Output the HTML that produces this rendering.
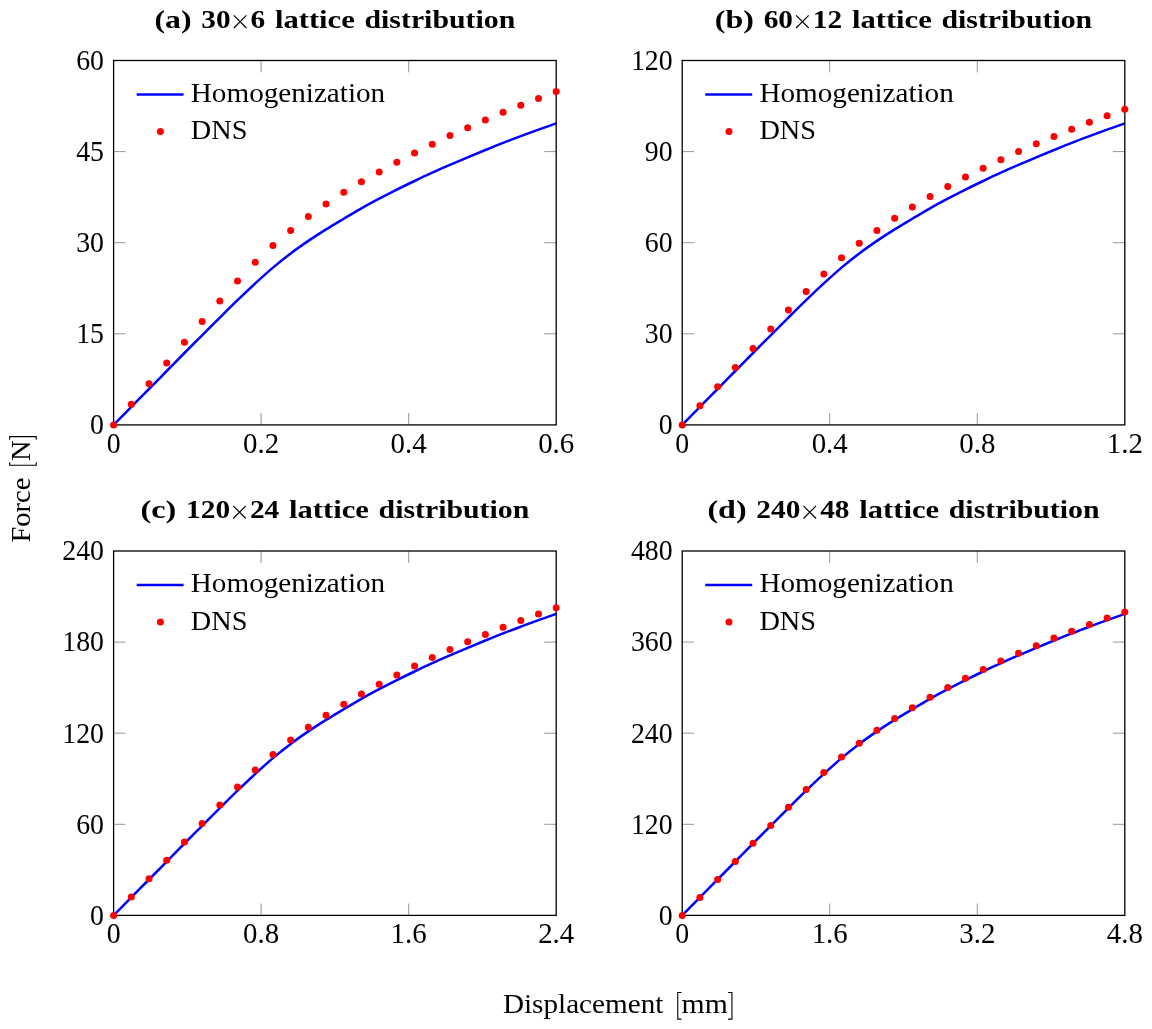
<!DOCTYPE html>
<html><head><meta charset="utf-8"><title>Force-displacement</title>
<style>
html,body{margin:0;padding:0;background:#fff;}
svg{display:block;will-change:transform;}
text{font-family:"Liberation Serif",serif;fill:#000;}
.t{font-size:28.2px;}
.b{font-size:25.5px;font-weight:bold;}
.x{font-weight:normal;}
.n{font-size:30px;}
</style></head><body>
<svg width="1152" height="1029" viewBox="0 0 1152 1029">
<rect width="1152" height="1029" fill="#fff"/>
<g id="panel-a">
<path d="M261.13 424.9v-11.9 M261.13 60.5v11.9 M408.67 424.9v-11.9 M408.67 60.5v11.9 M113.6 333.8h11.9 M556.2 333.8h-11.9 M113.6 242.7h11.9 M556.2 242.7h-11.9 M113.6 151.6h11.9 M556.2 151.6h-11.9" stroke="#6a6a6a" stroke-width="0.7" fill="none"/>
<path d="M113.6 424.9 C116.55 421.9 125.4 412.88 131.3 406.9 C137.21 400.92 143.11 394.98 149.01 389 C154.91 383.02 160.81 377 166.71 371 C172.61 365 178.51 358.95 184.42 353 C190.32 347.05 196.22 341.2 202.12 335.3 C208.02 329.4 213.92 323.45 219.82 317.6 C225.73 311.75 231.63 305.89 237.53 300.2 C243.43 294.51 249.33 288.88 255.23 283.45 C261.13 278.02 267.03 272.65 272.94 267.65 C278.84 262.65 284.74 257.92 290.64 253.45 C296.54 248.98 302.44 244.87 308.34 240.85 C314.25 236.83 320.15 233.04 326.05 229.35 C331.95 225.66 337.85 222.21 343.75 218.7 C349.65 215.19 355.55 211.63 361.46 208.3 C367.36 204.97 373.26 201.82 379.16 198.7 C385.06 195.58 390.96 192.55 396.86 189.6 C402.77 186.65 408.67 183.82 414.57 181 C420.47 178.18 426.37 175.38 432.27 172.7 C438.17 170.02 444.07 167.47 449.98 164.9 C455.88 162.33 461.78 159.78 467.68 157.3 C473.58 154.82 479.48 152.4 485.38 150 C491.29 147.6 497.19 145.2 503.09 142.9 C508.99 140.6 514.89 138.4 520.79 136.2 C526.69 134 532.59 131.83 538.5 129.7 C544.4 127.57 553.25 124.45 556.2 123.4" fill="none" stroke="#0000ff" stroke-width="2.5" stroke-linejoin="round"/>
<rect x="113.6" y="60.5" width="442.6" height="364.4" fill="none" stroke="#000" stroke-width="1.3"/>
<g fill="#ff0000"><circle cx="113.6" cy="424.9" r="3.5"/><circle cx="131.3" cy="404.2" r="3.5"/><circle cx="149.01" cy="383.7" r="3.5"/><circle cx="166.71" cy="362.9" r="3.5"/><circle cx="184.42" cy="342.2" r="3.5"/><circle cx="202.12" cy="321.6" r="3.5"/><circle cx="219.82" cy="301.1" r="3.5"/><circle cx="237.53" cy="281.1" r="3.5"/><circle cx="255.23" cy="262.25" r="3.5"/><circle cx="272.94" cy="245.6" r="3.5"/><circle cx="290.64" cy="230.4" r="3.5"/><circle cx="308.34" cy="216.4" r="3.5"/><circle cx="326.05" cy="204" r="3.5"/><circle cx="343.75" cy="192.3" r="3.5"/><circle cx="361.46" cy="181.8" r="3.5"/><circle cx="379.16" cy="172" r="3.5"/><circle cx="396.86" cy="162.3" r="3.5"/><circle cx="414.57" cy="153" r="3.5"/><circle cx="432.27" cy="144.15" r="3.5"/><circle cx="449.98" cy="135.4" r="3.5"/><circle cx="467.68" cy="127.7" r="3.5"/><circle cx="485.38" cy="119.9" r="3.5"/><circle cx="503.09" cy="112.3" r="3.5"/><circle cx="520.79" cy="105.2" r="3.5"/><circle cx="538.5" cy="98.4" r="3.5"/><circle cx="556.2" cy="91.5" r="3.5"/></g>
<path d="M136.7 94.5h46.9" stroke="#0000ff" stroke-width="2.5" fill="none"/>
<circle cx="160.4" cy="131.4" r="3.5" fill="#ff0000"/>
<text class="t" x="190.8" y="101.6" textLength="194.4" lengthAdjust="spacingAndGlyphs">Homogenization</text>
<text class="t" x="190.8" y="139.1" textLength="56.6" lengthAdjust="spacingAndGlyphs">DNS</text>
<text class="b" x="154.56" y="27.9" textLength="37.05" lengthAdjust="spacingAndGlyphs">(a)</text>
<text class="b" x="201.38" y="27.9" textLength="29.32" lengthAdjust="spacingAndGlyphs">30</text>
<path d="M233.83 15.4l12.6 12.6 M233.83 28l12.6 -12.6" stroke="#000" stroke-width="1.15" fill="none"/>
<text class="b" x="250.55" y="27.9" textLength="14.66" lengthAdjust="spacingAndGlyphs">6</text>
<text class="b" x="274.97" y="27.9" textLength="79.79" lengthAdjust="spacingAndGlyphs">lattice</text>
<text class="b" x="364.53" y="27.9" textLength="150.71" lengthAdjust="spacingAndGlyphs">distribution</text>
<text class="n" x="106.65" y="452.8" textLength="13.9" lengthAdjust="spacingAndGlyphs">0</text>
<text class="n" x="243.08" y="452.8" textLength="36.1" lengthAdjust="spacingAndGlyphs">0.2</text>
<text class="n" x="390.62" y="452.8" textLength="36.1" lengthAdjust="spacingAndGlyphs">0.4</text>
<text class="n" x="538.15" y="452.8" textLength="36.1" lengthAdjust="spacingAndGlyphs">0.6</text>
<text class="n" x="90.1" y="434.2" textLength="13.9" lengthAdjust="spacingAndGlyphs">0</text>
<text class="n" x="76.2" y="343.1" textLength="27.8" lengthAdjust="spacingAndGlyphs">15</text>
<text class="n" x="76.2" y="252" textLength="27.8" lengthAdjust="spacingAndGlyphs">30</text>
<text class="n" x="76.2" y="160.9" textLength="27.8" lengthAdjust="spacingAndGlyphs">45</text>
<text class="n" x="76.2" y="69.8" textLength="27.8" lengthAdjust="spacingAndGlyphs">60</text>
</g>
<g id="panel-b">
<path d="M829.73 424.9v-11.9 M829.73 60.5v11.9 M977.27 424.9v-11.9 M977.27 60.5v11.9 M682.2 333.8h11.9 M1124.8 333.8h-11.9 M682.2 242.7h11.9 M1124.8 242.7h-11.9 M682.2 151.6h11.9 M1124.8 151.6h-11.9" stroke="#6a6a6a" stroke-width="0.7" fill="none"/>
<path d="M682.2 424.9 C685.15 421.9 694 412.88 699.9 406.9 C705.81 400.92 711.71 394.98 717.61 389 C723.51 383.02 729.41 377 735.31 371 C741.21 365 747.11 358.95 753.02 353 C758.92 347.05 764.82 341.2 770.72 335.3 C776.62 329.4 782.52 323.45 788.42 317.6 C794.33 311.75 800.23 305.89 806.13 300.2 C812.03 294.51 817.93 288.88 823.83 283.45 C829.73 278.02 835.63 272.65 841.54 267.65 C847.44 262.65 853.34 257.92 859.24 253.45 C865.14 248.98 871.04 244.87 876.94 240.85 C882.85 236.83 888.75 233.04 894.65 229.35 C900.55 225.66 906.45 222.21 912.35 218.7 C918.25 215.19 924.15 211.63 930.06 208.3 C935.96 204.97 941.86 201.82 947.76 198.7 C953.66 195.58 959.56 192.55 965.46 189.6 C971.37 186.65 977.27 183.82 983.17 181 C989.07 178.18 994.97 175.38 1000.87 172.7 C1006.77 170.02 1012.67 167.47 1018.58 164.9 C1024.48 162.33 1030.38 159.78 1036.28 157.3 C1042.18 154.82 1048.08 152.4 1053.98 150 C1059.89 147.6 1065.79 145.2 1071.69 142.9 C1077.59 140.6 1083.49 138.4 1089.39 136.2 C1095.29 134 1101.19 131.83 1107.1 129.7 C1113 127.57 1121.85 124.45 1124.8 123.4" fill="none" stroke="#0000ff" stroke-width="2.5" stroke-linejoin="round"/>
<rect x="682.2" y="60.5" width="442.6" height="364.4" fill="none" stroke="#000" stroke-width="1.3"/>
<g fill="#ff0000"><circle cx="682.2" cy="424.9" r="3.5"/><circle cx="699.9" cy="405.7" r="3.5"/><circle cx="717.61" cy="386.7" r="3.5"/><circle cx="735.31" cy="367.4" r="3.5"/><circle cx="753.02" cy="348.4" r="3.5"/><circle cx="770.72" cy="329.1" r="3.5"/><circle cx="788.42" cy="309.9" r="3.5"/><circle cx="806.13" cy="291.4" r="3.5"/><circle cx="823.83" cy="273.9" r="3.5"/><circle cx="841.54" cy="257.7" r="3.5"/><circle cx="859.24" cy="243.2" r="3.5"/><circle cx="876.94" cy="230.6" r="3.5"/><circle cx="894.65" cy="218.3" r="3.5"/><circle cx="912.35" cy="207.1" r="3.5"/><circle cx="930.06" cy="196.4" r="3.5"/><circle cx="947.76" cy="186.6" r="3.5"/><circle cx="965.46" cy="177.1" r="3.5"/><circle cx="983.17" cy="168.2" r="3.5"/><circle cx="1000.87" cy="159.7" r="3.5"/><circle cx="1018.58" cy="151.6" r="3.5"/><circle cx="1036.28" cy="143.8" r="3.5"/><circle cx="1053.98" cy="136.4" r="3.5"/><circle cx="1071.69" cy="129.3" r="3.5"/><circle cx="1089.39" cy="122.3" r="3.5"/><circle cx="1107.1" cy="115.7" r="3.5"/><circle cx="1124.8" cy="109.2" r="3.5"/></g>
<path d="M705.3 94.5h46.9" stroke="#0000ff" stroke-width="2.5" fill="none"/>
<circle cx="729" cy="131.4" r="3.5" fill="#ff0000"/>
<text class="t" x="759.4" y="101.6" textLength="194.4" lengthAdjust="spacingAndGlyphs">Homogenization</text>
<text class="t" x="759.4" y="139.1" textLength="56.6" lengthAdjust="spacingAndGlyphs">DNS</text>
<text class="b" x="714.81" y="27.9" textLength="39.09" lengthAdjust="spacingAndGlyphs">(b)</text>
<text class="b" x="763.67" y="27.9" textLength="29.32" lengthAdjust="spacingAndGlyphs">60</text>
<path d="M796.12 15.4l12.6 12.6 M796.12 28l12.6 -12.6" stroke="#000" stroke-width="1.15" fill="none"/>
<text class="b" x="812.83" y="27.9" textLength="29.32" lengthAdjust="spacingAndGlyphs">12</text>
<text class="b" x="851.93" y="27.9" textLength="79.79" lengthAdjust="spacingAndGlyphs">lattice</text>
<text class="b" x="941.48" y="27.9" textLength="150.71" lengthAdjust="spacingAndGlyphs">distribution</text>
<text class="n" x="675.25" y="452.8" textLength="13.9" lengthAdjust="spacingAndGlyphs">0</text>
<text class="n" x="811.68" y="452.8" textLength="36.1" lengthAdjust="spacingAndGlyphs">0.4</text>
<text class="n" x="959.22" y="452.8" textLength="36.1" lengthAdjust="spacingAndGlyphs">0.8</text>
<text class="n" x="1106.75" y="452.8" textLength="36.1" lengthAdjust="spacingAndGlyphs">1.2</text>
<text class="n" x="658.7" y="434.2" textLength="13.9" lengthAdjust="spacingAndGlyphs">0</text>
<text class="n" x="644.8" y="343.1" textLength="27.8" lengthAdjust="spacingAndGlyphs">30</text>
<text class="n" x="644.8" y="252" textLength="27.8" lengthAdjust="spacingAndGlyphs">60</text>
<text class="n" x="644.8" y="160.9" textLength="27.8" lengthAdjust="spacingAndGlyphs">90</text>
<text class="n" x="630.9" y="69.8" textLength="41.7" lengthAdjust="spacingAndGlyphs">120</text>
</g>
<g id="panel-c">
<path d="M261.13 915.4v-11.9 M261.13 551v11.9 M408.67 915.4v-11.9 M408.67 551v11.9 M113.6 824.3h11.9 M556.2 824.3h-11.9 M113.6 733.2h11.9 M556.2 733.2h-11.9 M113.6 642.1h11.9 M556.2 642.1h-11.9" stroke="#6a6a6a" stroke-width="0.7" fill="none"/>
<path d="M113.6 915.4 C116.55 912.4 125.4 903.38 131.3 897.4 C137.21 891.42 143.11 885.48 149.01 879.5 C154.91 873.52 160.81 867.5 166.71 861.5 C172.61 855.5 178.51 849.45 184.42 843.5 C190.32 837.55 196.22 831.7 202.12 825.8 C208.02 819.9 213.92 813.95 219.82 808.1 C225.73 802.25 231.63 796.39 237.53 790.7 C243.43 785.01 249.33 779.38 255.23 773.95 C261.13 768.53 267.03 763.15 272.94 758.15 C278.84 753.15 284.74 748.42 290.64 743.95 C296.54 739.48 302.44 735.37 308.34 731.35 C314.25 727.33 320.15 723.54 326.05 719.85 C331.95 716.16 337.85 712.71 343.75 709.2 C349.65 705.69 355.55 702.13 361.46 698.8 C367.36 695.47 373.26 692.32 379.16 689.2 C385.06 686.08 390.96 683.05 396.86 680.1 C402.77 677.15 408.67 674.32 414.57 671.5 C420.47 668.68 426.37 665.88 432.27 663.2 C438.17 660.52 444.07 657.97 449.98 655.4 C455.88 652.83 461.78 650.28 467.68 647.8 C473.58 645.32 479.48 642.9 485.38 640.5 C491.29 638.1 497.19 635.7 503.09 633.4 C508.99 631.1 514.89 628.9 520.79 626.7 C526.69 624.5 532.59 622.33 538.5 620.2 C544.4 618.07 553.25 614.95 556.2 613.9" fill="none" stroke="#0000ff" stroke-width="2.5" stroke-linejoin="round"/>
<rect x="113.6" y="551" width="442.6" height="364.4" fill="none" stroke="#000" stroke-width="1.3"/>
<g fill="#ff0000"><circle cx="113.6" cy="915.4" r="3.5"/><circle cx="131.3" cy="897" r="3.5"/><circle cx="149.01" cy="878.7" r="3.5"/><circle cx="166.71" cy="860.2" r="3.5"/><circle cx="184.42" cy="841.9" r="3.5"/><circle cx="202.12" cy="823.5" r="3.5"/><circle cx="219.82" cy="805" r="3.5"/><circle cx="237.53" cy="786.9" r="3.5"/><circle cx="255.23" cy="770" r="3.5"/><circle cx="272.94" cy="754.4" r="3.5"/><circle cx="290.64" cy="740.05" r="3.5"/><circle cx="308.34" cy="727.2" r="3.5"/><circle cx="326.05" cy="715.3" r="3.5"/><circle cx="343.75" cy="704.3" r="3.5"/><circle cx="361.46" cy="694" r="3.5"/><circle cx="379.16" cy="684.2" r="3.5"/><circle cx="396.86" cy="674.9" r="3.5"/><circle cx="414.57" cy="666" r="3.5"/><circle cx="432.27" cy="657.5" r="3.5"/><circle cx="449.98" cy="649.4" r="3.5"/><circle cx="467.68" cy="641.8" r="3.5"/><circle cx="485.38" cy="634.4" r="3.5"/><circle cx="503.09" cy="627.3" r="3.5"/><circle cx="520.79" cy="620.5" r="3.5"/><circle cx="538.5" cy="614.1" r="3.5"/><circle cx="556.2" cy="607.7" r="3.5"/></g>
<path d="M136.7 585h46.9" stroke="#0000ff" stroke-width="2.5" fill="none"/>
<circle cx="160.4" cy="621.9" r="3.5" fill="#ff0000"/>
<text class="t" x="190.8" y="592.1" textLength="194.4" lengthAdjust="spacingAndGlyphs">Homogenization</text>
<text class="t" x="190.8" y="629.6" textLength="56.6" lengthAdjust="spacingAndGlyphs">DNS</text>
<text class="b" x="140.51" y="518.4" textLength="35.83" lengthAdjust="spacingAndGlyphs">(c)</text>
<text class="b" x="186.11" y="518.4" textLength="43.99" lengthAdjust="spacingAndGlyphs">120</text>
<path d="M233.21 505.9l12.6 12.6 M233.21 518.5l12.6 -12.6" stroke="#000" stroke-width="1.15" fill="none"/>
<text class="b" x="249.93" y="518.4" textLength="29.32" lengthAdjust="spacingAndGlyphs">24</text>
<text class="b" x="289.03" y="518.4" textLength="79.79" lengthAdjust="spacingAndGlyphs">lattice</text>
<text class="b" x="378.58" y="518.4" textLength="150.71" lengthAdjust="spacingAndGlyphs">distribution</text>
<text class="n" x="106.65" y="943.3" textLength="13.9" lengthAdjust="spacingAndGlyphs">0</text>
<text class="n" x="243.08" y="943.3" textLength="36.1" lengthAdjust="spacingAndGlyphs">0.8</text>
<text class="n" x="390.62" y="943.3" textLength="36.1" lengthAdjust="spacingAndGlyphs">1.6</text>
<text class="n" x="538.15" y="943.3" textLength="36.1" lengthAdjust="spacingAndGlyphs">2.4</text>
<text class="n" x="90.1" y="924.7" textLength="13.9" lengthAdjust="spacingAndGlyphs">0</text>
<text class="n" x="76.2" y="833.6" textLength="27.8" lengthAdjust="spacingAndGlyphs">60</text>
<text class="n" x="62.3" y="742.5" textLength="41.7" lengthAdjust="spacingAndGlyphs">120</text>
<text class="n" x="62.3" y="651.4" textLength="41.7" lengthAdjust="spacingAndGlyphs">180</text>
<text class="n" x="62.3" y="560.3" textLength="41.7" lengthAdjust="spacingAndGlyphs">240</text>
</g>
<g id="panel-d">
<path d="M829.73 915.4v-11.9 M829.73 551v11.9 M977.27 915.4v-11.9 M977.27 551v11.9 M682.2 824.3h11.9 M1124.8 824.3h-11.9 M682.2 733.2h11.9 M1124.8 733.2h-11.9 M682.2 642.1h11.9 M1124.8 642.1h-11.9" stroke="#6a6a6a" stroke-width="0.7" fill="none"/>
<path d="M682.2 915.4 C685.15 912.4 694 903.38 699.9 897.4 C705.81 891.42 711.71 885.48 717.61 879.5 C723.51 873.52 729.41 867.5 735.31 861.5 C741.21 855.5 747.11 849.45 753.02 843.5 C758.92 837.55 764.82 831.7 770.72 825.8 C776.62 819.9 782.52 813.95 788.42 808.1 C794.33 802.25 800.23 796.39 806.13 790.7 C812.03 785.01 817.93 779.38 823.83 773.95 C829.73 768.53 835.63 763.15 841.54 758.15 C847.44 753.15 853.34 748.42 859.24 743.95 C865.14 739.48 871.04 735.37 876.94 731.35 C882.85 727.33 888.75 723.54 894.65 719.85 C900.55 716.16 906.45 712.71 912.35 709.2 C918.25 705.69 924.15 702.13 930.06 698.8 C935.96 695.47 941.86 692.32 947.76 689.2 C953.66 686.08 959.56 683.05 965.46 680.1 C971.37 677.15 977.27 674.32 983.17 671.5 C989.07 668.68 994.97 665.88 1000.87 663.2 C1006.77 660.52 1012.67 657.97 1018.58 655.4 C1024.48 652.83 1030.38 650.28 1036.28 647.8 C1042.18 645.32 1048.08 642.9 1053.98 640.5 C1059.89 638.1 1065.79 635.7 1071.69 633.4 C1077.59 631.1 1083.49 628.9 1089.39 626.7 C1095.29 624.5 1101.19 622.33 1107.1 620.2 C1113 618.07 1121.85 614.95 1124.8 613.9" fill="none" stroke="#0000ff" stroke-width="2.5" stroke-linejoin="round"/>
<rect x="682.2" y="551" width="442.6" height="364.4" fill="none" stroke="#000" stroke-width="1.3"/>
<g fill="#ff0000"><circle cx="682.2" cy="915.4" r="3.5"/><circle cx="699.9" cy="897.4" r="3.5"/><circle cx="717.61" cy="879.5" r="3.5"/><circle cx="735.31" cy="861.4" r="3.5"/><circle cx="753.02" cy="843.3" r="3.5"/><circle cx="770.72" cy="825.4" r="3.5"/><circle cx="788.42" cy="807.3" r="3.5"/><circle cx="806.13" cy="789.4" r="3.5"/><circle cx="823.83" cy="772.5" r="3.5"/><circle cx="841.54" cy="757.1" r="3.5"/><circle cx="859.24" cy="743.35" r="3.5"/><circle cx="876.94" cy="730.2" r="3.5"/><circle cx="894.65" cy="718.5" r="3.5"/><circle cx="912.35" cy="707.7" r="3.5"/><circle cx="930.06" cy="697.2" r="3.5"/><circle cx="947.76" cy="687.6" r="3.5"/><circle cx="965.46" cy="678.3" r="3.5"/><circle cx="983.17" cy="669.5" r="3.5"/><circle cx="1000.87" cy="661.1" r="3.5"/><circle cx="1018.58" cy="653.3" r="3.5"/><circle cx="1036.28" cy="645.7" r="3.5"/><circle cx="1053.98" cy="638.1" r="3.5"/><circle cx="1071.69" cy="631.3" r="3.5"/><circle cx="1089.39" cy="624.4" r="3.5"/><circle cx="1107.1" cy="618" r="3.5"/><circle cx="1124.8" cy="611.9" r="3.5"/></g>
<path d="M705.3 585h46.9" stroke="#0000ff" stroke-width="2.5" fill="none"/>
<circle cx="729" cy="621.9" r="3.5" fill="#ff0000"/>
<text class="t" x="759.4" y="592.1" textLength="194.4" lengthAdjust="spacingAndGlyphs">Homogenization</text>
<text class="t" x="759.4" y="629.6" textLength="56.6" lengthAdjust="spacingAndGlyphs">DNS</text>
<text class="b" x="707.48" y="518.4" textLength="39.09" lengthAdjust="spacingAndGlyphs">(d)</text>
<text class="b" x="756.34" y="518.4" textLength="43.99" lengthAdjust="spacingAndGlyphs">240</text>
<path d="M803.45 505.9l12.6 12.6 M803.45 518.5l12.6 -12.6" stroke="#000" stroke-width="1.15" fill="none"/>
<text class="b" x="820.17" y="518.4" textLength="29.32" lengthAdjust="spacingAndGlyphs">48</text>
<text class="b" x="859.26" y="518.4" textLength="79.79" lengthAdjust="spacingAndGlyphs">lattice</text>
<text class="b" x="948.81" y="518.4" textLength="150.71" lengthAdjust="spacingAndGlyphs">distribution</text>
<text class="n" x="675.25" y="943.3" textLength="13.9" lengthAdjust="spacingAndGlyphs">0</text>
<text class="n" x="811.68" y="943.3" textLength="36.1" lengthAdjust="spacingAndGlyphs">1.6</text>
<text class="n" x="959.22" y="943.3" textLength="36.1" lengthAdjust="spacingAndGlyphs">3.2</text>
<text class="n" x="1106.75" y="943.3" textLength="36.1" lengthAdjust="spacingAndGlyphs">4.8</text>
<text class="n" x="658.7" y="924.7" textLength="13.9" lengthAdjust="spacingAndGlyphs">0</text>
<text class="n" x="630.9" y="833.6" textLength="41.7" lengthAdjust="spacingAndGlyphs">120</text>
<text class="n" x="630.9" y="742.5" textLength="41.7" lengthAdjust="spacingAndGlyphs">240</text>
<text class="n" x="630.9" y="651.4" textLength="41.7" lengthAdjust="spacingAndGlyphs">360</text>
<text class="n" x="630.9" y="560.3" textLength="41.7" lengthAdjust="spacingAndGlyphs">480</text>
</g>
<text class="t" x="502.9" y="1013.3" textLength="160.5" lengthAdjust="spacingAndGlyphs">Displacement</text>
<text class="t" x="681.6" y="1013.3" textLength="46.2" lengthAdjust="spacingAndGlyphs">mm</text>
<path d="M681.5 992.45H677.75V1019.15H681.5 M728.1 992.45H731.95V1019.15H728.1" stroke="#000" stroke-width="1.1" fill="none"/>
<text class="t" transform="translate(30.3 542.6) rotate(-90)" textLength="65" lengthAdjust="spacingAndGlyphs">Force</text>
<text class="t" transform="translate(30.3 460.9) rotate(-90)" textLength="20.6" lengthAdjust="spacingAndGlyphs">N</text>
<path d="M9.65 462.3V465.3H36.25V462.3 M9.65 439.7V436.6H36.25V439.7" stroke="#000" stroke-width="1.1" fill="none"/>
</svg></body></html>
